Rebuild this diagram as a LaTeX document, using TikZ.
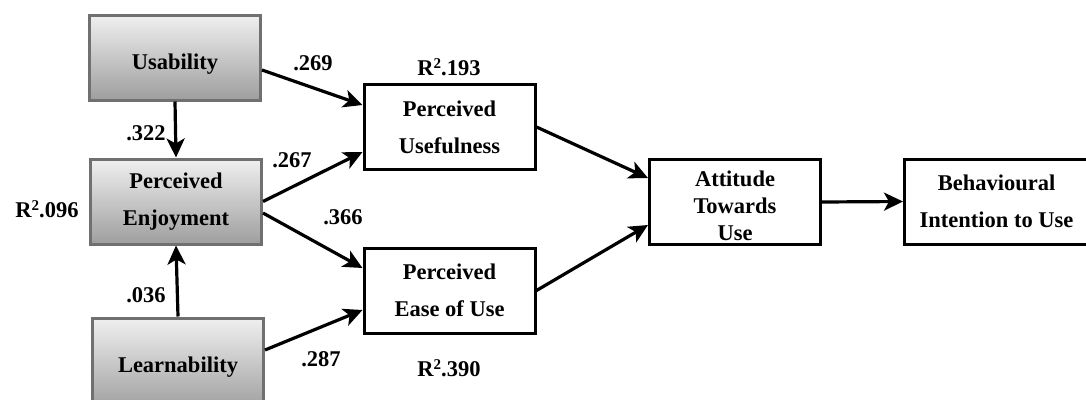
\documentclass[tikz,border=0pt]{standalone}
\usepackage{fontspec}
\setmainfont{Liberation Serif}
\usetikzlibrary{arrows.meta}
\newcommand{\rsq}{R\raisebox{7pt}{\fontsize{15}{15}\selectfont 2}}
\begin{document}
\begin{tikzpicture}[x=1pt,y=-1pt,
  every node/.style={font=\bfseries\fontsize{22.5}{37}\selectfont},
  greybox/.style={draw=black!56, line width=3pt, top color=black!6, bottom color=black!38,
    minimum width=171pt, minimum height=85pt, align=center, inner sep=0pt},
  whitebox/.style={draw=black, line width=3pt, fill=white,
    minimum width=171pt, minimum height=85pt, align=center, inner sep=0pt},
  arr/.style={line width=3.2pt, -{Stealth[length=19pt,width=18pt,inset=5pt]}},
  coef/.style={anchor=base, inner sep=0pt}]
\clip (0,0) rectangle (1086,399);
\fill[white] (0,0) rectangle (1086,399);
% boxes
\node[greybox] (U) at (175,57.5) {\raisebox{-7pt}[\height][\depth]{Usability}};
\node[greybox] (PE) at (176,201.5) {Perceived\\Enjoyment};
\node[greybox, minimum height=92pt] (L) at (178,364) {\raisebox{-3pt}[\height][\depth]{Learnability}};
\node[whitebox] (PU) at (449.5,127) {Perceived\\Usefulness};
\node[whitebox] (PEOU) at (449.5,290.5) {Perceived\\Ease of Use};
\node[whitebox] (ATU) at (735,202) {\raisebox{-6pt}[\height][\depth]{\fontsize{22.5}{27}\selectfont\begin{tabular}{@{}c@{}}Attitude\\Towards\\Use\end{tabular}}};
\node[whitebox, minimum width=184pt] (BI) at (996.5,201.5) {Behavioural\\Intention to Use};
% connectors
\draw[arr] ([yshift=-12.5pt]U.east) -- ([yshift=22pt]PU.west);
\draw[arr] (U.south) -- (PE.north);
\draw[arr] (PE.east) -- ([yshift=-25pt]PU.west);
\draw[arr] ([yshift=-11.5pt]PE.east) -- ([yshift=22.5pt]PEOU.west);
\draw[arr] (L.north) -- (PE.south);
\draw[arr] ([yshift=14pt]L.east) -- ([yshift=-19.5pt]PEOU.west);
\draw[arr] (PU.east) -- ([yshift=24pt]ATU.west);
\draw[arr] (PEOU.east) -- ([yshift=-23pt]ATU.west);
\draw[arr] (ATU.east) -- (BI.west);
% coefficients
\node[coef] (c1) at (313,70) {.269};
\node[coef] (c2) at (146,140) {.322};
\node[coef] (c3) at (292,167) {.267};
\node[coef] (c4) at (343,224) {.366};
\node[coef] (c5) at (146,302) {.036};
\node[coef] (c6) at (321,366) {.287};
\node[coef] (r1) at (47,217) {\rsq.096};
\node[coef] (r2) at (449,75) {\rsq.193};
\node[coef] (r3) at (449,376) {\rsq.390};
\end{tikzpicture}
\end{document}
